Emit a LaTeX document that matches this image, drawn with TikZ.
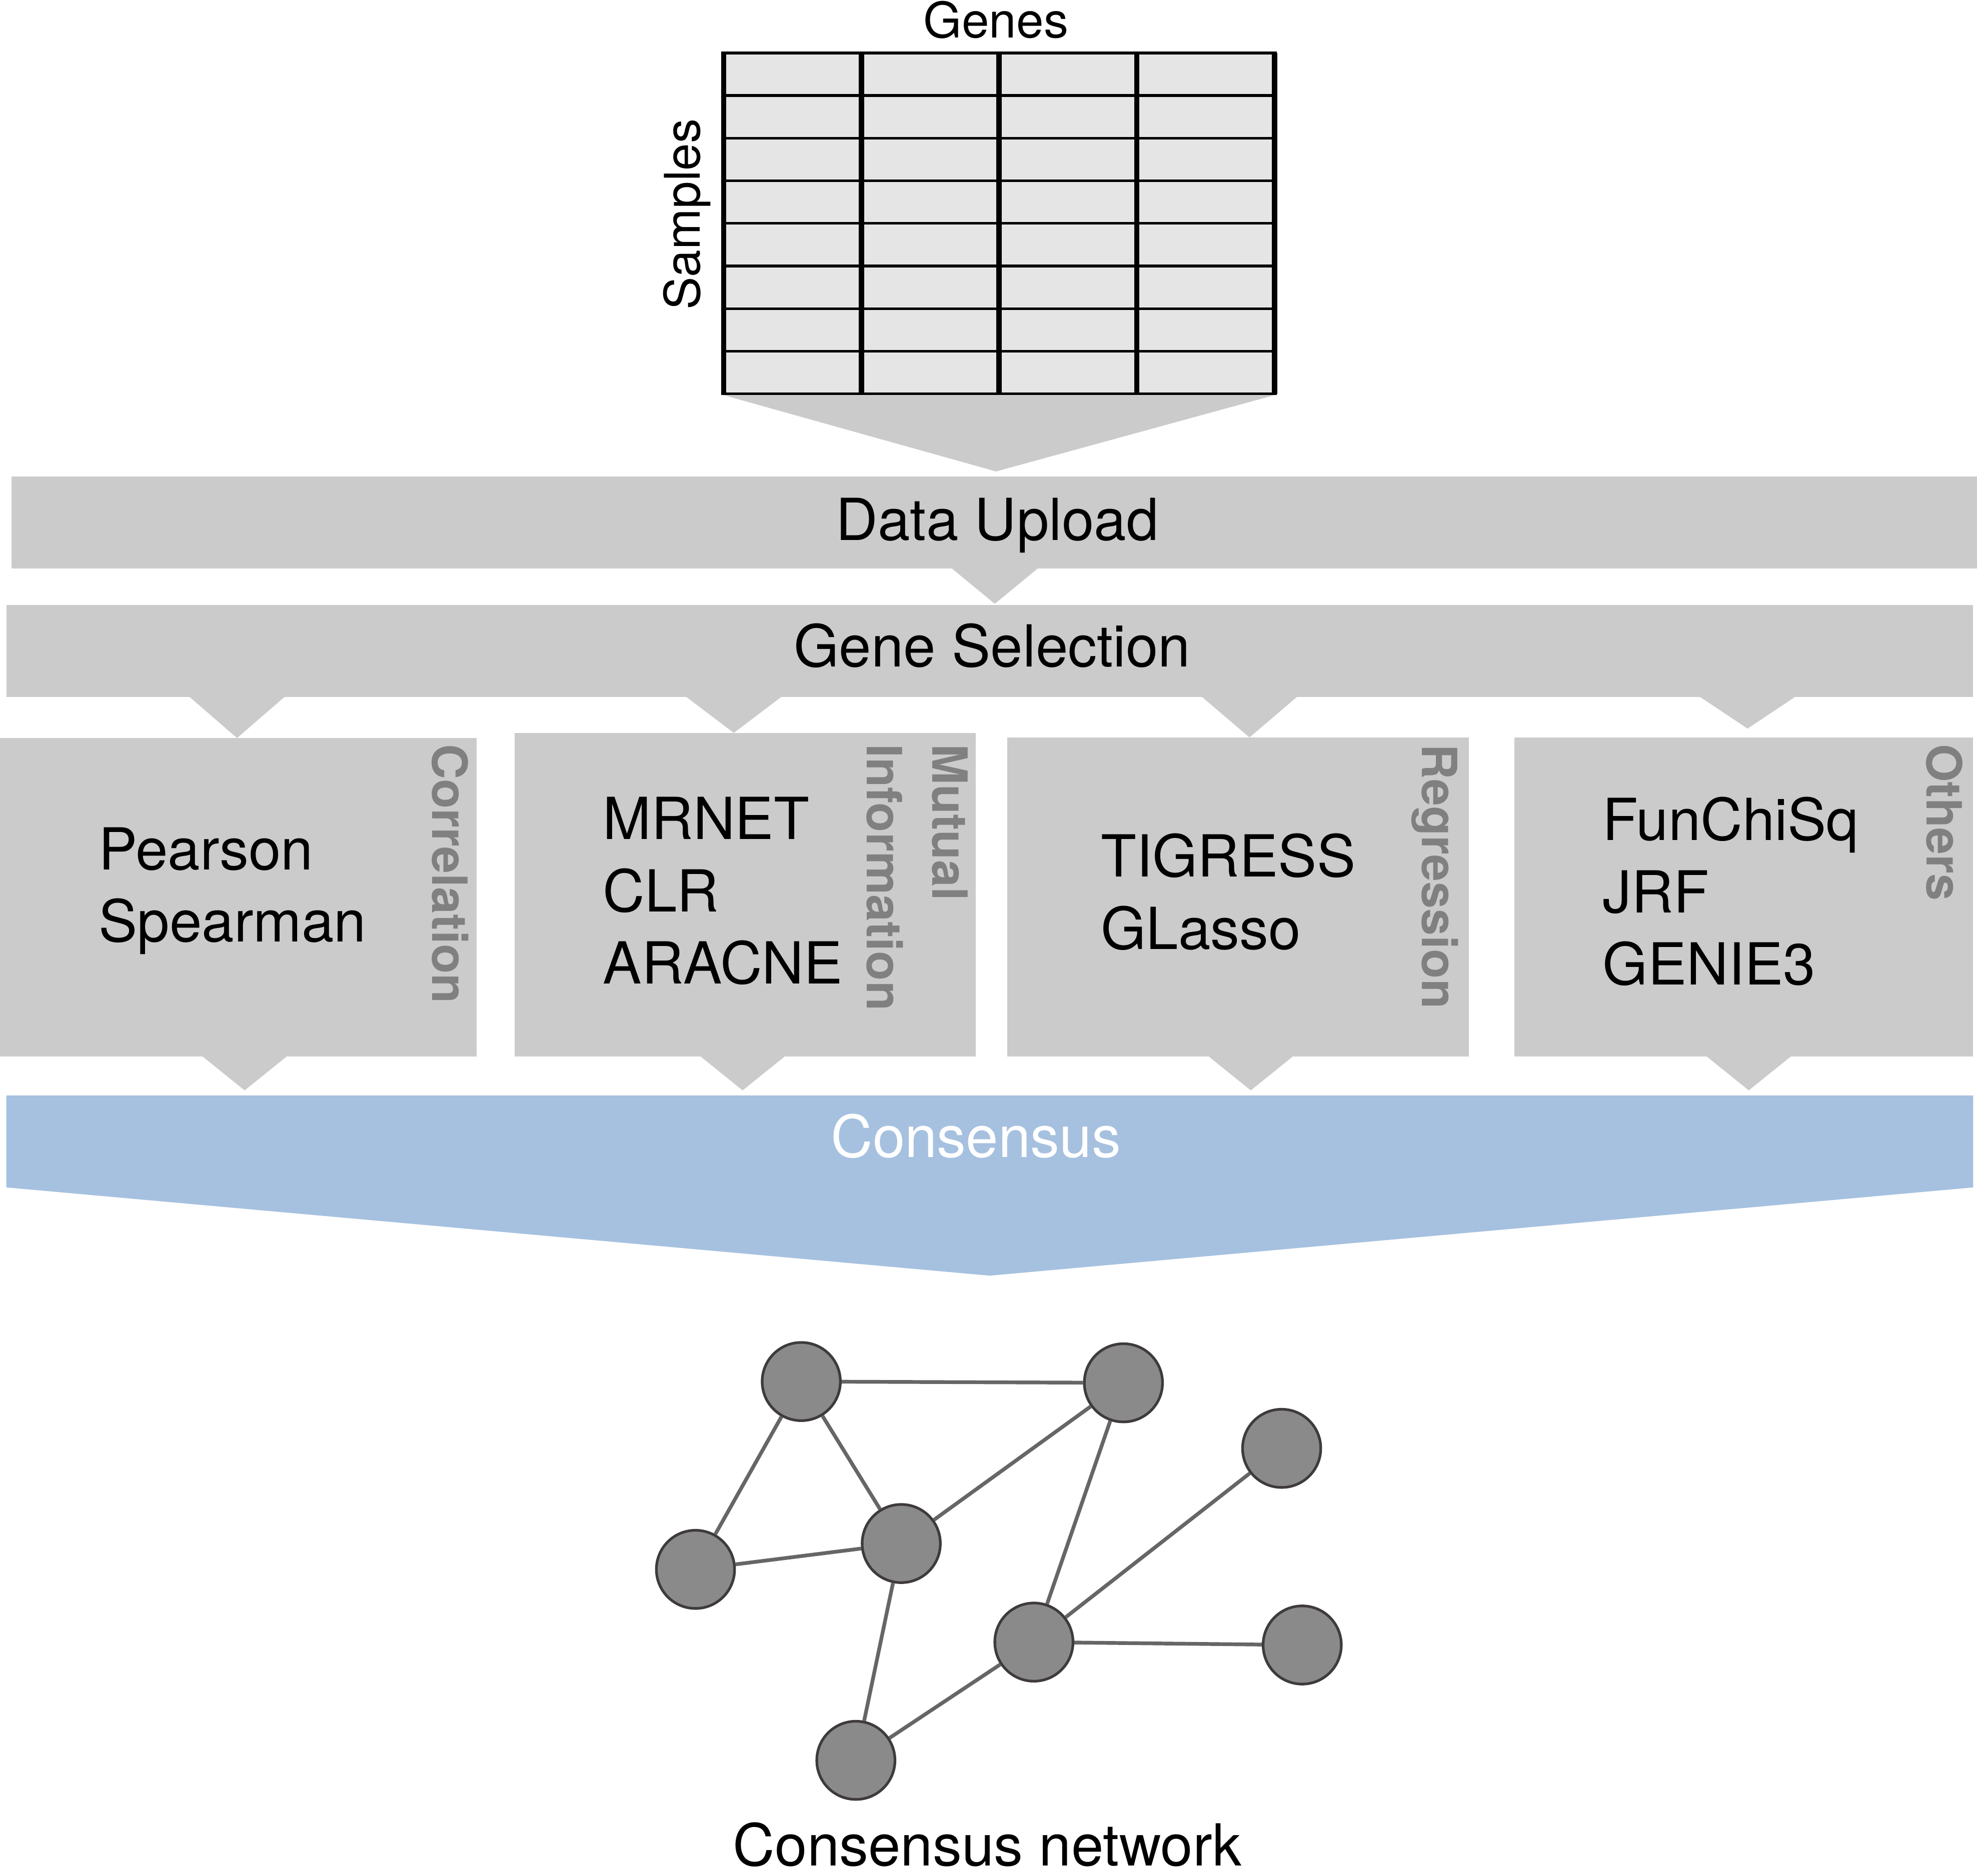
\documentclass[tikz,border=0pt]{standalone}
\usepackage{xcolor}
\usepackage{fontspec}
\setmainfont{TeX Gyre Heros}
\usetikzlibrary{positioning}

\definecolor{boxgray}{HTML}{CBCBCB}
\definecolor{cellgray}{HTML}{E5E5E5}
\definecolor{consblue}{HTML}{A6C1DF}
\definecolor{labelgray}{HTML}{808080}
\definecolor{nodegray}{HTML}{8A8A8A}
\definecolor{nodeline}{HTML}{3F3B3B}
\definecolor{edgegray}{HTML}{666666}

\begin{document}
\begin{tikzpicture}[x=0.025cm, y=-0.025cm,
		greyfill/.style={fill=boxgray},
		maintext/.style={inner sep=0, font=\fontsize{32.7}{40.8}\selectfont},
		methods/.style={maintext, anchor=north west, align=left},
		kind/.style={inner sep=0, anchor=north west, rotate=-90, align=left, text=labelgray, font=\fontsize{27.4}{36.9}\selectfont\bfseries},
		axis/.style={inner sep=0, font=\fontsize{27.7}{33}\selectfont},
		gene/.style={circle, draw=nodeline, fill=nodegray, line width=1.5pt, minimum size=1.55cm, inner sep=0},
		link/.style={draw=edgegray, line width=2.1pt}]
		
		\useasboundingbox (0,0) rectangle (1568,1488);
		
		% expression matrix
		\fill[cellgray] (574,42) rectangle (1010.7,312.4);
		\foreach \r in {0,...,8}
		\draw[line width=1.5pt] (572,42+\r*33.8) -- (1012.5,42+\r*33.8);
		\foreach \c in {0,...,4}
		\draw[line width=3pt] (574+\c*109.2,42) -- (574+\c*109.2,312.4);
		
		\node[axis, anchor=base] (genes) at (790,30) {Genes};
		\node[axis, anchor=base, rotate=90] (samples) at (555,170) {Samples};
		
		\fill[greyfill] (574,313.5) -- (1010.7,313.5) -- (790,374) -- cycle;
		
		% pipeline bars
		\fill[greyfill] (9,378) rectangle (1568,451);
		\node[maintext, anchor=base] (upload) at (791,428.4) {Data Upload};
		\fill[greyfill] (755,451) -- (823,451) -- (789,479) -- cycle;
		
		\fill[greyfill] (5,480) rectangle (1565,553);
		\node[maintext, anchor=base] (selection) at (787,529) {Gene Selection};
		
		\fill[greyfill] (150.5,553) -- (225.5,553) -- (188,585.5) -- cycle;
		\fill[greyfill] (544.5,553) -- (619.5,553) -- (582,581.4) -- cycle;
		\fill[greyfill] (953.5,553) -- (1028.5,553) -- (991,585) -- cycle;
		\fill[greyfill] (1348.5,553) -- (1423.5,553) -- (1386,578) -- cycle;
		
		% method boxes
		\fill[greyfill] (0,585.5) rectangle (378,838);
		\fill[greyfill] (408,581.4) rectangle (774,838);
		\fill[greyfill] (799,585) rectangle (1165,838);
		\fill[greyfill] (1201,585) rectangle (1565,838);
		
		\node[methods] (corr) at (78,656) {Pearson\\Spearman};
		\node[methods] (mutinf) at (478,632) {MRNET\\CLR\\ARACNE};
		\node[methods] (regr) at (873,661) {TIGRESS\\GLasso};
		\node[methods] (others) at (1271,632) {FunChiSq\\JRF\\GENIE3};
		
		\node[kind] (corrlabel) at (372,590) {Correlation};
		\node[kind] (mutinflabel) at (768,590) {Mutual\\Information};
		\node[kind] (regrlabel) at (1157,590) {Regression};
		\node[kind] (otherslabel) at (1557,590) {Others};
		
		\foreach \t in {194,589,992,1387}
		\fill[greyfill] (\t-33.5,838) -- (\t+33.5,838) -- (\t,865) -- cycle;
		
		% consensus
		\fill[consblue] (5,869) -- (1565,869) -- (1565,942) -- (785,1012) -- (5,942) -- cycle;
		\node[maintext, anchor=base, text=white] (consensus) at (774,918) {Consensus};
		
		% network
		\node[gene] (g1) at (635.5,1096) {};
		\node[gene] (g2) at (891,1097) {};
		\node[gene] (g3) at (1016.5,1149) {};
		\node[gene] (g4) at (551.6,1245) {};
		\node[gene] (g5) at (714.8,1224.5) {};
		\node[gene] (g6) at (820,1302.7) {};
		\node[gene] (g7) at (1032.8,1305) {};
		\node[gene] (g8) at (678.8,1396.5) {};
		
		\draw[link] (g1) -- (g2);
		\draw[link] (g1) -- (g4);
		\draw[link] (g1) -- (g5);
		\draw[link] (g4) -- (g5);
		\draw[link] (g5) -- (g2);
		\draw[link] (g5) -- (g8);
		\draw[link] (g8) -- (g6);
		\draw[link] (g6) -- (g2);
		\draw[link] (g6) -- (g3);
		\draw[link] (g6) -- (g7);
		
		\node[maintext, anchor=base] (network) at (783,1480) {Consensus network};
	\end{tikzpicture}
\end{document}
